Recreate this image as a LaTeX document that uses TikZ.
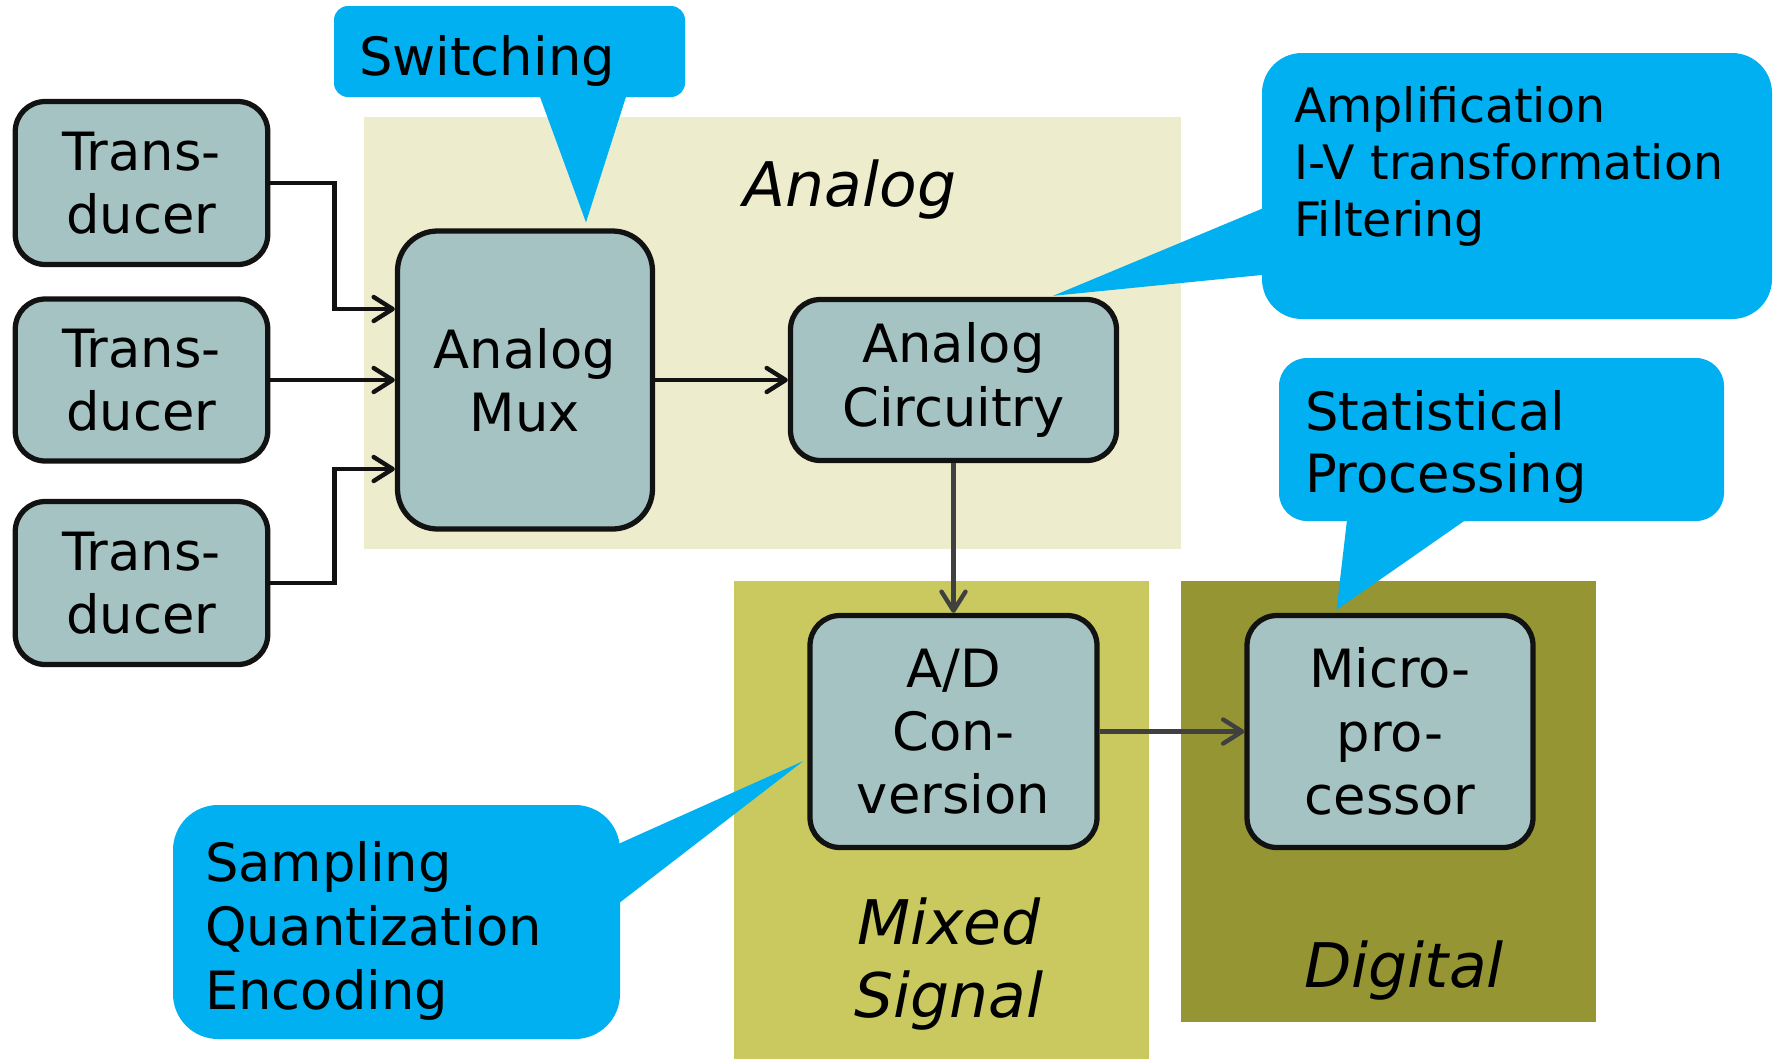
\documentclass[tikz,border=0pt]{standalone}
\usepackage{fontspec}
\setmainfont{DejaVu Sans}
\usepackage{tikz}
\usetikzlibrary{arrows.meta}
\usetikzlibrary{positioning}
\definecolor{blockfill}{RGB}{164,195,194}
\definecolor{analogbg}{RGB}{237,237,205}
\definecolor{mixedbg}{RGB}{201,201,96}
\definecolor{digitalbg}{RGB}{150,149,52}
\definecolor{bubbleblue}{RGB}{0,176,240}
\definecolor{wiregray}{RGB}{64,64,64}
\tikzset{
    block/.style={
           rectangle,
           rounded corners=0.6cm,
           fill=blockfill,
           draw=black!93, line width=3pt,
           align=center,
           inner sep=2pt,
           font=\fontsize{30}{36}\selectfont,
           },
    bubble/.style={
           rectangle,
           fill=bubbleblue,
           align=left,
           inner xsep=0.64cm, inner ysep=0pt,
           font=\fontsize{30}{35.5}\selectfont,
           },
    zonelabel/.style={
           align=center,
           font=\fontsize{35}{42}\selectfont\itshape,
           },
    wire/.style={->, line width=2.5pt, draw=black!93},
}

\begin{document}
\begin{tikzpicture}[>={Straight Barb[length=0.38cm,width=0.48cm,round]}]
 \useasboundingbox (0,0) rectangle (35.5,-21.18);

 % signal domains in the background
 \fill[analogbg] (7.28,-2.34) rectangle (23.62,-10.98);
 \fill[mixedbg] (14.68,-11.62) rectangle (22.98,-21.18);
 \fill[digitalbg] (23.62,-11.62) rectangle (31.92,-20.44);
 \node[zonelabel] (analog label) at (17.0,-3.80) {Analog};
 \node[zonelabel] (mixed label) at (18.98,-19.28) {Mixed\\Signal};
 \node[zonelabel] (digital label) at (28.08,-19.42) {Digital};

 % middle transducer first, the other two hang above/below it
 \node[block, minimum width=5.05cm, minimum height=3.24cm] (Trans2) at (2.83,-7.60) {Trans-\\ducer};
 \node[block,
  minimum width=5.05cm, minimum height=3.26cm,
  node distance=3.94cm,
  above of=Trans2] (Trans1) {Trans-\\ducer};
 \node[block,
  minimum width=5.05cm, minimum height=3.26cm,
  node distance=4.06cm,
  below of=Trans2] (Trans3) {Trans-\\ducer};

 % processing chain
 \node[block,
  rounded corners=0.8cm,
  minimum width=5.1cm, minimum height=5.96cm,
  node distance=7.67cm,
  right of=Trans2] (Mux) {Analog\\Mux};
 \node[block,
  minimum width=6.52cm, minimum height=3.22cm,
  node distance=8.57cm,
  right of=Mux] (Circuitry) {Analog\\Circuitry};
 \node[block,
  minimum width=5.74cm, minimum height=4.64cm,
  node distance=7.03cm,
  below of=Circuitry] (ADC) {A/D\\Con-\\version};
 \node[block,
  minimum width=5.72cm, minimum height=4.64cm,
  node distance=8.73cm,
  right of=ADC] (Micro) {Micro-\\pro-\\cessor};

 % wiring
 \draw[wire] (Trans1.east) -- ++(1.28,0) |- ([yshift=1.42cm]Mux.west);
 \draw[wire] (Trans3.east) -- ++(1.28,0) |- ([yshift=-1.78cm]Mux.west);
 \path[wire] (Trans2) edge (Mux)
  (Mux) edge (Circuitry);
 \path[wire, draw=wiregray] (Circuitry) edge (ADC)
  (ADC) edge (Micro);

 % speech bubbles: box as node, tail filled up to the block it points at
 \node[bubble, rounded corners=0.28cm, inner xsep=0.5cm,
  text width=6.02cm, text height=1.38cm, text depth=0.44cm] (switching) at (10.19,-1.03) {Switching};
 \fill[bubbleblue] ([xshift=0.54cm,yshift=0.2cm]switching.south)
  -- ([xshift=1.22cm,yshift=0.12cm]Mux.north)
  -- ([xshift=2.39cm,yshift=0.2cm]switching.south) -- cycle;

 \node[bubble, rounded corners=0.8cm,
  font=\fontsize{27}{32.5}\selectfont,
  text width=8.92cm, text height=1.38cm, text depth=3.94cm] (amplify) at (30.34,-3.72)
  {Amplification\\I-V transformation\\Filtering};
 \fill[bubbleblue] ([xshift=0.4cm,yshift=-0.29cm]amplify.west)
  -- ([xshift=1.99cm,yshift=0.02cm]Circuitry.north)
  -- ([xshift=0.4cm,yshift=-1.74cm]amplify.west) -- cycle;

 \node[bubble, rounded corners=0.56cm, inner xsep=0.52cm,
  text width=7.86cm, text height=1.44cm, text depth=1.82cm] (stats) at (30.03,-8.79)
  {Statistical\\Processing};
 \fill[bubbleblue] ([xshift=-3.07cm,yshift=0.2cm]stats.south)
  -- ([xshift=-1.07cm,yshift=0.06cm]Micro.north)
  -- ([xshift=-0.47cm,yshift=0.2cm]stats.south) -- cycle;

 \node[bubble, rounded corners=0.9cm,
  font=\fontsize{30}{36.5}\selectfont,
  text width=7.66cm, text height=1.52cm, text depth=3.16cm] (sampling) at (7.93,-18.44)
  {Sampling\\Quantization\\Encoding};
 \fill[bubbleblue] ([xshift=-0.4cm,yshift=1.40cm]sampling.east)
  -- ([xshift=-0.08cm,yshift=-0.59cm]ADC.west)
  -- ([xshift=-0.4cm,yshift=0.09cm]sampling.east) -- cycle;

\end{tikzpicture}
\end{document}
